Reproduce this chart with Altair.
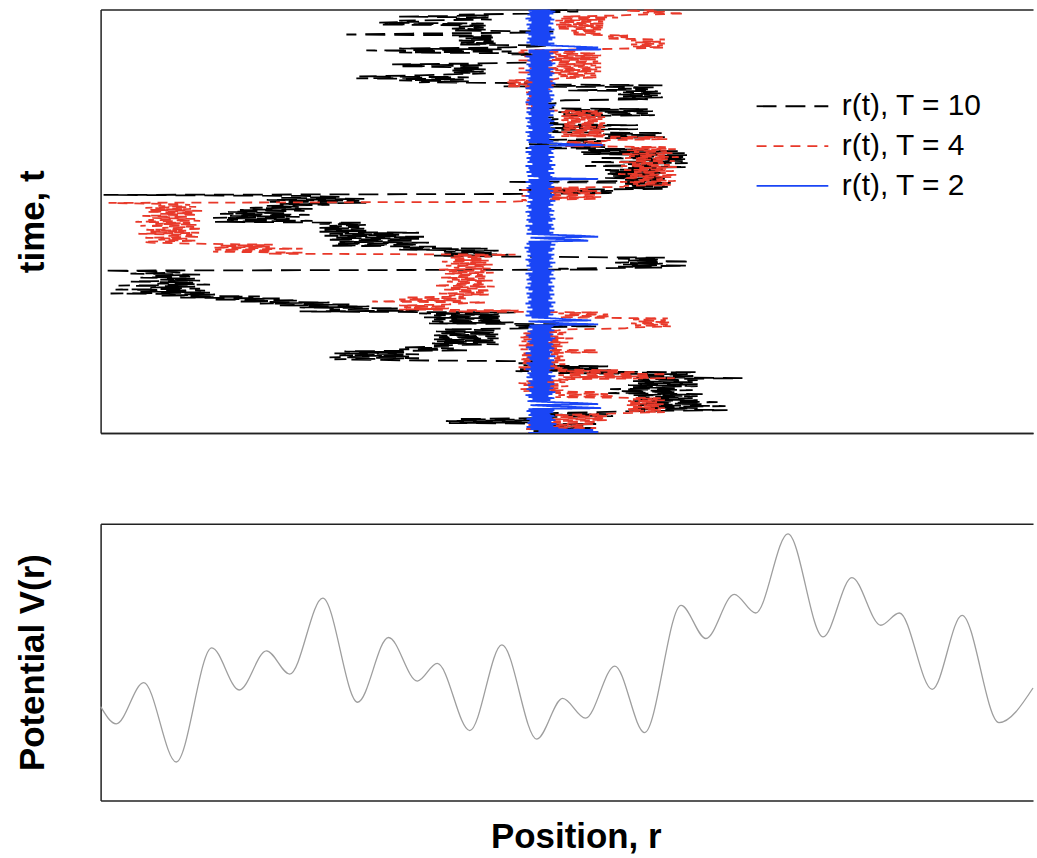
import altair as alt
import pandas as pd

# Each trajectory is stored as time rows of two samples (a, b): within a row
# the walker is at r = a at time t = 2k and at r = b at time t = 2k + 1.
# Rows run from the start (t = 0, bottom) upwards.

black_rows = [
    (43.0, 50.0), (43.5, 49.0), (42.8, 49.5), (44.0, 48.5), (43.2, 49.8),
    (35.0, 45.0), (34.7, 44.5), (36.0, 45.5), (45.0, 51.5), (44.5, 51.0),
    (45.0, 50.0), (54.0, 63.0), (53.5, 60.0), (55.0, 62.8), (54.0, 60.5),
    (54.5, 62.0), (53.5, 60.0), (54.0, 59.5), (54.0, 60.0), (53.5, 60.5),
    (51.0, 58.0), (52.0, 59.5), (51.2, 57.7), (53.5, 60.0), (53.0, 60.0),
    (54.0, 59.5), (53.5, 60.0), (54.0, 64.5), (53.8, 60.0), (54.0, 59.0),
    (46.0, 60.0), (41.7, 51.3), (42.0, 50.0), (43.0, 51.0), (42.5, 46.0),
    (42.0, 44.5), (43.3, 30.0), (23.5, 32.0), (23.0, 31.0), (24.0, 32.0),
    (23.5, 30.5), (24.5, 37.0), (30.0, 35.5), (30.5, 35.0), (33.5, 40.0),
    (33.3, 40.0), (33.8, 39.5), (33.5, 40.0), (34.0, 39.7), (33.5, 40.0),
    (34.0, 39.5), (33.7, 40.0), (34.5, 43.0), (42.0, 50.0), (41.7, 49.0),
    (33.0, 41.5), (33.3, 40.5), (33.5, 40.0), (32.5, 40.5), (33.5, 40.0),
    (32.0, 41.7), (20.0, 32.0), (23.0, 30.0), (20.0, 27.0), (18.0, 25.0),
    (16.0, 23.0), (14.0, 20.0), (11.3, 18.0), (8.0, 16.0), (6.0, 11.5),
    (1.0, 11.0), (4.0, 10.5), (1.5, 10.0), (5.0, 9.5), (1.8, 11.0),
    (5.7, 9.3), (3.0, 10.0), (6.0, 9.5), (4.0, 9.0), (5.5, 10.0),
    (3.0, 8.0), (6.5, 0.3), (50.0, 46.0), (56.5, 52.0), (59.0, 52.5),
    (56.5, 51.7), (59.3, 53.0), (56.0, 52.0), (56.7, 41.5), (33.5, 41.0),
    (34.3, 39.3), (34.5, 40.0), (30.0, 39.0), (30.0, 33.7), (23.0, 32.0),
    (23.5, 33.0), (24.0, 31.5), (22.7, 32.0), (23.5, 32.5), (22.5, 30.0),
    (23.0, 32.0), (22.0, 26.7), (22.5, 26.5), (22.0, 26.0), (23.0, 26.7),
    (22.0, 26.5), (11.5, 21.3), (12.7, 19.0), (11.3, 20.0), (13.0, 21.0),
    (12.0, 18.5), (12.8, 20.5), (14.0, 21.3), (15.0, 20.0), (16.7, 23.0),
    (18.0, 26.7), (17.0, 26.0), (16.7, 26.5), (18.0, 24.0), (20.0, 0.3),
    (44.7, 51.7), (45.0, 51.5), (42.0, 56.5), (52.7, 57.0), (53.0, 56.7),
    (52.7, 57.3), (40.7, 56.0), (52.7, 56.7), (50.7, 56.7), (51.5, 56.0),
    (50.7, 56.7), (51.0, 56.0), (50.7, 56.5), (53.0, 59.0), (48.7, 55.3),
    (53.0, 59.0), (49.0, 58.5), (53.5, 59.0), (50.0, 58.8), (53.0, 59.0),
    (48.5, 58.7), (48.3, 58.0), (49.0, 55.0), (42.7, 50.7), (48.0, 50.7),
    (43.0, 50.0), (48.5, 50.7), (44.0, 50.0), (50.3, 56.7), (51.0, 56.0),
    (50.5, 56.7), (44.5, 46.0), (44.0, 54.0), (45.0, 50.0), (46.0, 54.0),
    (44.5, 46.0), (44.0, 45.5), (44.5, 46.0), (44.0, 45.5), (46.0, 55.7),
    (46.5, 55.0), (46.0, 55.5), (46.5, 55.0), (44.5, 46.0), (44.0, 45.5),
    (44.8, 45.8), (44.0, 45.2), (46.7, 55.0), (52.0, 56.5), (52.5, 56.0),
    (52.0, 56.3), (52.5, 56.0), (47.0, 55.0), (52.0, 56.0), (40.5, 56.7),
    (44.0, 45.5), (32.0, 37.0), (30.0, 36.5), (25.7, 37.0), (26.0, 32.0),
    (35.0, 38.7), (35.5, 38.5), (35.0, 38.7), (35.5, 38.0), (30.0, 38.7),
    (29.3, 38.0), (44.0, 45.0), (43.5, 44.8), (44.0, 45.2), (43.7, 44.5),
    (41.3, 45.0), (30.0, 41.3), (26.7, 40.3), (30.0, 40.3), (44.0, 44.8),
    (36.0, 39.7), (36.2, 39.5), (36.0, 39.7), (36.5, 39.5), (36.0, 39.3),
    (24.7, 31.3), (44.0, 45.5), (35.5, 38.7), (35.3, 38.5), (36.0, 38.7),
    (28.0, 38.5), (28.0, 32.0), (30.0, 39.3), (35.7, 39.3), (30.0, 39.0),
    (36.0, 43.3), (43.3, 48.0), (44.0, 48.0),
]

red_rows = [
    (43.0, 50.0), (44.0, 49.0), (42.8, 49.8), (43.5, 48.5), (43.0, 49.5),
    (44.0, 50.0), (45.5, 51.0), (45.3, 50.5), (46.0, 51.0), (45.5, 50.5),
    (52.7, 56.7), (53.0, 56.5), (52.8, 56.7), (53.5, 56.2), (52.7, 56.6),
    (53.2, 56.0), (53.0, 56.7), (53.5, 56.3), (45.7, 51.7), (46.0, 51.0),
    (45.7, 50.0), (42.5, 46.5), (42.2, 46.0), (43.0, 47.0), (42.5, 46.0),
    (42.0, 46.7), (42.8, 47.0), (46.0, 57.7), (46.5, 55.0), (46.0, 57.0),
    (47.0, 54.0), (46.0, 52.0), (42.5, 46.5), (42.0, 46.0), (42.7, 46.7),
    (42.2, 46.0), (42.5, 47.0), (42.0, 46.2), (42.8, 46.5), (42.2, 46.0),
    (42.5, 50.0), (43.0, 50.0), (42.2, 46.0), (42.6, 46.5), (42.0, 46.2),
    (42.8, 47.0), (42.3, 46.0), (42.5, 47.5), (42.0, 46.0), (42.7, 46.5),
    (42.2, 46.8), (43.0, 46.0), (46.7, 52.7), (53.3, 57.3), (53.7, 57.0),
    (53.3, 57.3), (54.0, 56.8), (53.5, 57.0), (46.0, 51.3), (46.5, 51.0),
    (46.0, 50.0), (35.0, 42.0), (30.0, 35.0), (30.5, 34.8), (30.0, 35.0),
    (36.0, 38.7), (27.3, 36.2), (30.0, 36.7), (30.5, 36.5), (35.0, 39.0),
    (34.0, 38.5), (35.8, 39.3), (34.5, 38.2), (35.2, 39.6), (33.5, 38.8),
    (35.6, 38.3), (34.8, 39.4), (35.3, 38.6), (34.2, 39.0), (35.7, 38.4),
    (34.6, 39.5), (35.0, 38.7), (34.0, 39.2), (35.5, 38.5), (34.7, 39.4),
    (35.2, 38.8), (34.3, 39.0), (35.6, 38.6), (35.0, 39.2), (35.5, 41.7),
    (16.7, 20.3), (11.3, 17.3), (11.5, 20.3), (11.3, 17.0), (12.0, 17.3),
    (9.7, 5.0), (4.3, 9.7), (5.8, 8.8), (4.5, 10.0), (6.5, 9.2),
    (3.8, 9.9), (5.0, 8.6), (4.6, 10.3), (6.2, 9.4), (4.0, 9.7),
    (5.5, 9.0), (3.5, 10.0), (4.8, 9.5), (5.2, 8.9), (4.2, 9.8),
    (6.0, 9.3), (4.6, 10.2), (5.0, 9.1), (4.5, 9.6), (5.8, 9.0),
    (6.0, 0.8), (41.0, 43.0), (42.3, 50.0), (45.3, 50.3), (42.3, 50.0),
    (45.5, 50.3), (43.0, 50.0), (42.3, 49.0), (43.0, 52.5), (52.7, 57.3),
    (53.5, 57.0), (52.2, 57.8), (53.8, 56.5), (52.5, 57.4), (53.2, 58.0),
    (52.0, 56.8), (53.6, 57.6), (52.6, 56.9), (53.9, 57.9), (52.3, 57.2),
    (53.4, 56.6), (52.1, 57.7), (53.7, 57.1), (52.7, 58.1), (53.1, 56.7),
    (52.4, 57.5), (53.6, 56.9), (52.9, 57.8), (53.3, 56.8), (46.7, 50.7),
    (47.0, 50.5), (46.7, 50.7), (51.0, 57.0), (51.2, 56.5), (46.3, 50.7),
    (46.5, 50.5), (46.3, 50.7), (46.6, 50.3), (46.3, 50.7), (46.5, 50.5),
    (46.3, 50.7), (46.7, 50.3), (46.3, 50.5), (46.5, 50.7), (46.3, 50.3),
    (46.7, 50.7), (46.3, 50.0), (43.0, 45.0), (42.8, 44.5), (43.2, 45.2),
    (42.7, 44.8), (43.0, 45.0), (42.8, 44.5), (43.2, 45.2), (42.7, 44.8),
    (43.0, 45.0), (42.5, 44.5), (43.0, 45.2), (42.8, 44.5), (40.7, 45.7),
    (41.0, 45.5), (40.7, 45.7), (41.0, 45.5), (46.0, 50.0), (46.2, 49.8),
    (46.0, 50.0), (42.0, 50.3), (45.7, 50.0), (42.0, 50.3), (45.7, 49.8),
    (46.0, 50.3), (45.7, 50.0), (42.0, 49.8), (45.7, 50.0), (42.5, 50.3),
    (45.7, 49.8), (42.0, 48.0), (42.2, 48.0), (53.3, 56.7), (53.5, 56.5),
    (53.3, 56.7), (53.7, 56.3), (53.3, 56.7), (50.7, 53.0), (51.0, 53.0),
    (47.3, 50.3), (47.5, 50.0), (47.3, 50.3), (45.7, 50.7), (46.0, 50.5),
    (45.7, 50.7), (46.0, 50.5), (45.7, 50.7), (46.0, 52.0), (46.5, 51.5),
    (54.3, 58.7), (54.5, 56.7), (52.7, 55.7),
]

blue_rows = [
    (43.0, 50.0), (44.0, 49.5), (43.2, 46.0), (42.8, 45.5), (43.2, 45.8),
    (42.9, 45.3), (43.1, 45.7), (42.8, 45.4), (43.3, 45.6), (43.0, 45.2),
    (43.2, 45.5), (42.8, 45.6), (43.0, 50.3), (48.0, 45.0), (43.2, 50.0),
    (48.2, 45.2), (42.9, 45.2), (43.4, 45.6), (43.0, 45.0), (42.7, 45.4),
    (43.3, 45.7), (43.1, 45.1), (42.8, 45.5), (43.5, 45.2), (42.9, 45.6),
    (43.2, 44.9), (43.0, 45.5), (43.4, 45.3), (42.8, 45.7), (43.1, 45.0),
    (42.9, 45.4), (43.3, 45.1), (42.7, 45.6), (43.2, 45.2), (43.0, 45.5),
    (42.8, 45.3), (43.4, 45.6), (43.1, 45.0), (42.9, 45.7), (43.3, 45.2),
    (42.7, 45.4), (43.2, 45.1), (43.0, 45.6), (42.8, 45.3), (43.5, 45.5),
    (43.1, 45.0), (42.9, 45.4), (43.3, 45.7), (43.0, 45.2), (42.8, 45.5),
    (43.2, 45.1), (42.9, 45.6), (43.4, 45.3), (43.0, 45.5), (43.1, 50.0),
    (46.7, 45.0), (43.0, 49.3), (47.0, 45.6), (43.3, 45.0), (42.7, 45.5),
    (43.1, 45.2), (42.8, 45.6), (43.4, 45.1), (42.9, 45.5), (43.2, 45.3),
    (42.7, 45.7), (43.0, 45.0), (43.3, 45.4), (42.9, 45.2), (43.1, 45.6),
    (42.8, 45.1), (43.4, 45.5), (43.0, 45.3), (42.7, 45.6), (43.2, 45.0),
    (42.9, 45.4), (43.3, 45.2), (42.8, 45.7), (43.1, 45.1), (43.0, 45.5),
    (42.7, 45.3), (43.4, 45.6), (42.9, 45.0), (43.2, 45.4), (42.8, 45.2),
    (43.1, 45.7), (43.0, 45.1), (42.7, 45.5), (43.3, 45.3), (42.9, 45.6),
    (43.2, 45.0), (42.8, 45.4), (43.0, 45.6), (42.6, 45.2), (43.1, 45.7),
    (42.8, 45.3), (43.0, 49.0), (48.0, 45.0), (43.2, 50.0), (48.3, 45.2),
    (42.8, 45.5), (43.3, 45.1), (42.9, 45.6), (43.1, 45.3), (42.7, 45.5),
    (43.4, 45.0), (43.0, 45.4), (42.8, 45.7), (43.2, 45.2), (42.9, 45.5),
    (43.1, 45.1), (42.7, 45.6), (43.3, 45.3), (43.0, 45.0), (42.8, 45.5),
    (43.2, 45.2), (42.9, 45.7), (43.4, 45.1), (43.0, 45.4), (42.7, 45.6),
    (43.1, 45.2), (42.9, 45.5), (43.3, 45.0), (42.8, 45.6), (43.0, 45.3),
    (43.2, 45.5), (42.7, 45.1), (43.0, 50.0), (44.0, 45.4), (42.9, 45.2),
    (43.3, 45.6), (42.8, 45.0), (43.1, 45.5), (43.0, 45.3), (42.7, 45.7),
    (43.4, 45.1), (42.9, 45.4), (43.1, 45.2), (42.8, 45.6), (43.2, 45.0),
    (43.0, 45.5), (42.7, 45.3), (43.3, 45.6), (42.9, 45.1), (43.1, 50.5),
    (47.0, 45.2), (43.0, 45.5), (42.8, 45.1), (43.2, 45.6), (42.9, 45.3),
    (43.1, 45.0), (42.7, 45.4), (43.4, 45.7), (43.0, 45.2), (42.8, 45.5),
    (43.2, 45.1), (42.9, 45.6), (43.1, 45.3), (42.7, 45.0), (43.3, 45.5),
    (43.0, 45.2), (42.8, 45.6), (43.2, 45.1), (42.9, 45.4), (43.4, 45.7),
    (43.0, 45.0), (42.7, 45.3), (43.1, 45.5), (42.9, 45.2), (43.3, 45.6),
    (42.8, 45.1), (43.0, 45.4), (43.2, 45.0), (42.7, 45.5), (43.1, 45.3),
    (42.9, 45.7), (43.4, 45.2), (43.0, 45.5), (42.8, 45.1), (43.2, 45.4),
    (42.9, 45.6), (43.1, 45.2), (42.7, 45.5), (43.3, 45.0), (43.0, 45.4),
    (42.8, 45.7), (43.2, 45.3), (42.9, 45.1), (43.1, 45.6), (42.7, 45.2),
    (43.4, 45.5), (43.0, 45.1), (43.0, 50.3), (47.8, 50.0), (47.5, 45.2),
    (43.2, 45.6), (42.8, 45.0), (43.1, 45.4), (42.9, 45.7), (43.3, 45.2),
    (43.0, 45.5), (42.7, 45.1), (43.2, 45.6), (42.9, 45.3), (43.1, 45.0),
    (42.8, 45.5), (43.3, 45.2), (43.0, 45.6), (42.7, 45.3), (43.2, 45.1),
    (42.9, 45.5), (43.1, 45.7), (43.0, 45.2),
]

SERIES = ["r(t), T = 10", "r(t), T = 4", "r(t), T = 2"]
COLORS = ["#000000", "#E8392A", "#1A45F5"]
DASHES = [[20, 9], [10, 7], [1, 0]]
WIDTHS = [1.8, 1.8, 1.8]

# Potential landscape V(r): turning points of the curve
pot_r = [0.0, 1.57, 4.33, 7.6, 11.17, 13.93, 16.67, 19.0, 22.33, 25.83, 28.93,
         31.83, 33.83, 37.1, 40.33, 43.83, 46.43, 48.73, 51.67, 54.67, 58.33,
         60.83, 63.67, 65.83, 69.07, 72.6, 75.5, 78.4, 80.27, 83.57, 86.57,
         90.27, 93.7]
pot_v = [9.43, 7.70, 11.83, 3.87, 15.33, 11.1, 15.03, 12.7, 20.33, 9.87, 16.37,
         12.0, 13.77, 7.03, 15.63, 6.17, 10.25, 8.27, 13.5, 6.83, 19.6,
         16.27, 20.7, 18.83, 26.77, 16.43, 22.37, 17.6, 18.83, 11.17, 18.6,
         7.83, 11.3]

R_DOMAIN = [0, 93.7]
T_DOMAIN = [0, 425]
V_DOMAIN = [0, 27.8]
W = 936

rows = []
for name, pairs in zip(SERIES, [black_rows, red_rows, blue_rows]):
    for k, (a, b) in enumerate(pairs):
        rows.append({"series": name, "t": 2 * k, "r": a})
        rows.append({"series": name, "t": 2 * k + 1, "r": b})
traj = pd.DataFrame(rows)
pot = pd.DataFrame({"r": pot_r, "V": pot_v})

frame = dict(grid=False, ticks=False, labels=False, domain=True,
             domainColor="#222222", domainWidth=1.5)
title_style = dict(titleFont="Liberation Sans", titleFontSize=35,
                   titleFontWeight="bold", titleColor="#000000")

r_scale = alt.Scale(domain=R_DOMAIN, nice=False, zero=False)
t_scale = alt.Scale(domain=T_DOMAIN, nice=False, zero=False)
v_scale = alt.Scale(domain=V_DOMAIN, nice=False, zero=False)

# frame edges: bottom and top axis lines, left axis carries the title
x_bottom = alt.Axis(orient="bottom", title=None, **frame)
x_top = alt.Axis(orient="top", title=None, **frame)
t_axis = alt.Axis(orient="left", title="time, t", titlePadding=50,
                  **frame, **title_style)
v_axis = alt.Axis(orient="left", title="Potential V(r)", titlePadding=50,
                  **frame, **title_style)
r_axis = alt.Axis(orient="bottom", title="Position, r", titleX=477,
                  titlePadding=19, **frame, **title_style)

legend = alt.Legend(
    title=None, orient="none", legendX=679.5, legendY=82,
    symbolType="M-4,0H4", symbolSize=324, symbolStrokeWidth=1.8,
    labelFont="Liberation Sans", labelFontSize=30, labelColor="#000000",
    labelOffset=34.5, rowPadding=10, padding=0,
)
color = alt.Color("series:N", scale=alt.Scale(domain=SERIES, range=COLORS),
                  legend=legend)
dash = alt.StrokeDash("series:N", scale=alt.Scale(domain=SERIES, range=DASHES),
                      legend=legend)


def trajectory(name, width, x_axis):
    return (
        alt.Chart(traj)
        .transform_filter(alt.datum.series == name)
        .mark_line(strokeWidth=width, clip=True)
        .encode(
            x=alt.X("r:Q", scale=r_scale, axis=x_axis),
            y=alt.Y("t:Q", scale=t_scale, axis=t_axis),
            order="t:Q",
            color=color,
            strokeDash=dash,
        )
    )


top = alt.layer(
    trajectory(SERIES[0], WIDTHS[0], x_bottom),
    trajectory(SERIES[1], WIDTHS[1], x_top),
    trajectory(SERIES[2], WIDTHS[2], x_bottom),
).properties(width=W, height=425)

pot_line = alt.Chart(pot).mark_line(
    color="#9E9E9E", strokeWidth=1.3, interpolate="monotone"
).encode(
    x=alt.X("r:Q", scale=r_scale, axis=r_axis),
    y=alt.Y("V:Q", scale=v_scale, axis=v_axis),
)
pot_frame = alt.Chart(pot).mark_line(strokeOpacity=0).encode(
    x=alt.X("r:Q", scale=r_scale, axis=x_top),
    y=alt.Y("V:Q", scale=v_scale, axis=v_axis),
)
bottom = alt.layer(pot_line, pot_frame).properties(width=W, height=278)

chart = (
    alt.vconcat(top, bottom, spacing=89)
    .properties(padding={"left": 15, "top": 7, "right": 0, "bottom": 0},
                background="white")
    .configure_view(stroke="transparent")
)

chart.save("out.html", embed_options={"renderer": "svg", "actions": False})
